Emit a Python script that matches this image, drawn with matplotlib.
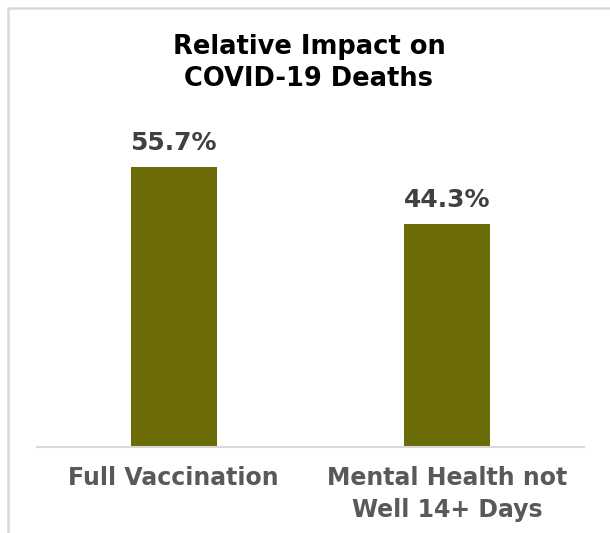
import matplotlib
matplotlib.use("Agg")
import matplotlib.pyplot as plt
from matplotlib.patches import Rectangle

# data
categories = ["Full Vaccination", "Mental Health not\nWell 14+ Days"]
impact_pct = [55.7, 44.3]
title = "Relative Impact on\nCOVID-19 Deaths"

W, H = 610, 533
fig = plt.figure(figsize=(W / 100, H / 100), dpi=100)
fig.patch.set_facecolor("white")

# chart area frame (runs off the right and bottom edges)
fig.patches.append(Rectangle((8 / W, -0.05), 1.05, (H - 8) / H + 0.05,
                             transform=fig.transFigure, fill=False,
                             edgecolor="#d9d9d9", linewidth=1.8))

# axes placed in pixel terms: x 37..584, baseline at y=447
ymax = 60
px_per_unit = 280 / 55.7
ax_top = 447 - ymax * px_per_unit
ax = fig.add_axes([37 / W, (H - 447) / H, (584 - 37) / W, (447 - ax_top) / H])
ax.set_xlim(-0.5, 1.5)
ax.set_ylim(0, ymax)

x = range(len(categories))
ax.bar(x, impact_pct, width=0.315, color="#6b6b07", zorder=2)

for xi, v in zip(x, impact_pct):
    ax.text(xi, v + 2.4, f"{v}%", ha="center", va="bottom",
            fontsize=18, fontweight="bold", color="#404040")

for s in ["top", "right", "left"]:
    ax.spines[s].set_visible(False)
ax.spines["bottom"].set_color("#d9d9d9")
ax.spines["bottom"].set_linewidth(1.5)
ax.set_yticks([])
ax.set_xticks(list(x))
ax.set_xticklabels(categories, fontsize=17, fontweight="bold", color="#595959",
                   linespacing=1.38)
ax.tick_params(axis="x", length=0, pad=14)

fig.text(309 / W, 1 - 62.5 / H, title, ha="center", va="center", fontsize=18.5,
         fontweight="bold", color="black", linespacing=1.3)

fig.savefig("out.png", dpi=100, facecolor="white")
